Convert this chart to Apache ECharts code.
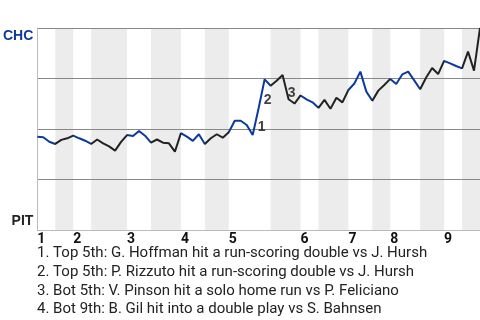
<!DOCTYPE html>
<html>
<head>
<meta charset="utf-8">
<script src="https://cdn.jsdelivr.net/npm/echarts@6/dist/echarts.min.js"></script>
<style>
html,body{margin:0;padding:0;background:#fff;}
#chart{width:480px;height:320px;}
</style>
</head>
<body>
<div id="chart"></div>
<script>
// Win probability after each plate appearance (1 = CHC, 0 = PIT)
const winProb = [
  0.462, 0.459, 0.437, 0.426, 0.446, 0.454, 0.467, 0.454, 0.442, 0.426,
  0.448, 0.429, 0.414, 0.393, 0.436, 0.470, 0.465, 0.490, 0.467, 0.433,
  0.448, 0.432, 0.429, 0.388, 0.479, 0.462, 0.441, 0.474, 0.426, 0.454,
  0.474, 0.457, 0.484, 0.541, 0.541, 0.520, 0.470, 0.604, 0.746, 0.714,
  0.739, 0.767, 0.647, 0.626, 0.666, 0.647, 0.632, 0.605, 0.644, 0.600,
  0.655, 0.632, 0.693, 0.725, 0.784, 0.685, 0.640, 0.690, 0.718, 0.748,
  0.723, 0.770, 0.784, 0.741, 0.697, 0.755, 0.802, 0.772, 0.837, 0.825,
  0.812, 0.800, 0.883, 0.789, 1.000
];
// plate appearances per half inning (top1, bot1, top2, bot2, ...)
const halfInningPAs = [3, 3, 3, 6, 4, 5, 4, 4, 7, 5, 3, 5, 4, 3, 5, 4, 3, 3];
const inningLabels = ['1', '2', '3', '4', '5', '6', '7', '8', '9'];
const teamLabels = { top: 'CHC', bottom: 'PIT' };
// key events: index of the plate appearance (segment start) and label
const eventIdx = [36, 37, 41];
const eventLabels = ['1', '2', '3'];
const footnotes = [
  '1. Top 5th: G. Hoffman hit a run-scoring double vs J. Hursh',
  '2. Top 5th: P. Rizzuto hit a run-scoring double vs J. Hursh',
  '3. Bot 5th: V. Pinson hit a solo home run vs P. Feliciano',
  '4. Bot 9th: B. Gil hit into a double play vs S. Bahnsen'
];

const BLUE = '#0b3a9e';
const DARK = '#222222';

// build half-inning boundaries
const bounds = [0];
halfInningPAs.forEach(n => bounds.push(bounds[bounds.length - 1] + n));
const inningStarts = [];
const pieces = [];
const shaded = [];
for (let i = 0; i < halfInningPAs.length; i++) {
  const a = bounds[i], b = bounds[i + 1];
  const isTop = i % 2 === 0;
  if (isTop) inningStarts.push(a);
  pieces.push({ gte: a, lt: (i === halfInningPAs.length - 1) ? b + 1 : b, color: isTop ? BLUE : DARK });
  if (!isTop) shaded.push([{ xAxis: a }, { xAxis: b }]);
}
const maxX = bounds[bounds.length - 1];

const lineData = winProb.map((v, i) => [i, v]);
const eventData = eventIdx.map((k, j) => ({
  value: [k + 0.5, (winProb[k] + winProb[k + 1]) / 2],
  label: { formatter: eventLabels[j] }
}));

const chart = echarts.init(document.getElementById('chart'));
chart.setOption({
  animation: false,
  title: {
    text: footnotes.join('\n'),
    left: 37,
    top: 244,
    padding: 0,
    textStyle: { fontFamily: 'Roboto', fontSize: 15, fontWeight: 'normal', color: '#222', lineHeight: 18.7 }
  },
  grid: { left: 36, right: 0, top: 28, bottom: 90, containLabel: false },
  visualMap: {
    show: false,
    type: 'piecewise',
    dimension: 0,
    seriesIndex: 0,
    pieces: pieces
  },
  xAxis: {
    type: 'value',
    min: 0,
    max: maxX,
    splitLine: { show: false },
    axisTick: { show: false },
    axisLine: { lineStyle: { color: '#bbbbbb', width: 1 } },
    axisLabel: {
      customValues: inningStarts,
      formatter: v => inningLabels[inningStarts.indexOf(v)] || '',
      align: 'left',
      margin: 2,
      color: '#111',
      fontFamily: 'Roboto',
      fontWeight: 'bold',
      fontSize: 14
    }
  },
  yAxis: {
    type: 'value',
    min: 0,
    max: 1,
    interval: 0.25,
    axisTick: { show: false },
    axisLine: { show: true, lineStyle: { color: '#bbbbbb', width: 1 } },
    splitLine: { show: true, showMinLine: false, lineStyle: { color: '#888888', width: 1 } },
    axisLabel: {
      margin: 4,
      formatter: v => v === 1 ? '{t|' + teamLabels.top + '}' : (v === 0 ? '{b|' + teamLabels.bottom + '}' : ''),
      rich: {
        t: { color: BLUE, fontFamily: 'Liberation Sans', fontWeight: 'bold', fontSize: 14, padding: [17, 0, 0, 0] },
        b: { color: DARK, fontFamily: 'Liberation Sans', fontWeight: 'bold', fontSize: 14, padding: [0, 0, 18, 0] }
      }
    }
  },
  series: [
    {
      type: 'line',
      data: lineData,
      symbol: 'none',
      lineStyle: { width: 2 },
      z: 3,
      markArea: {
        silent: true,
        z: -1,
        itemStyle: { color: '#ececec' },
        data: shaded
      }
    },
    {
      type: 'scatter',
      data: eventData,
      symbolSize: 0,
      z: 4,
      label: {
        show: true,
        position: 'inside',
        offset: [6, 6],
        color: '#111',
        fontFamily: 'Liberation Sans',
        fontWeight: 'bold',
        fontSize: 14
      }
    }
  ]
});
</script>
</body>
</html>
